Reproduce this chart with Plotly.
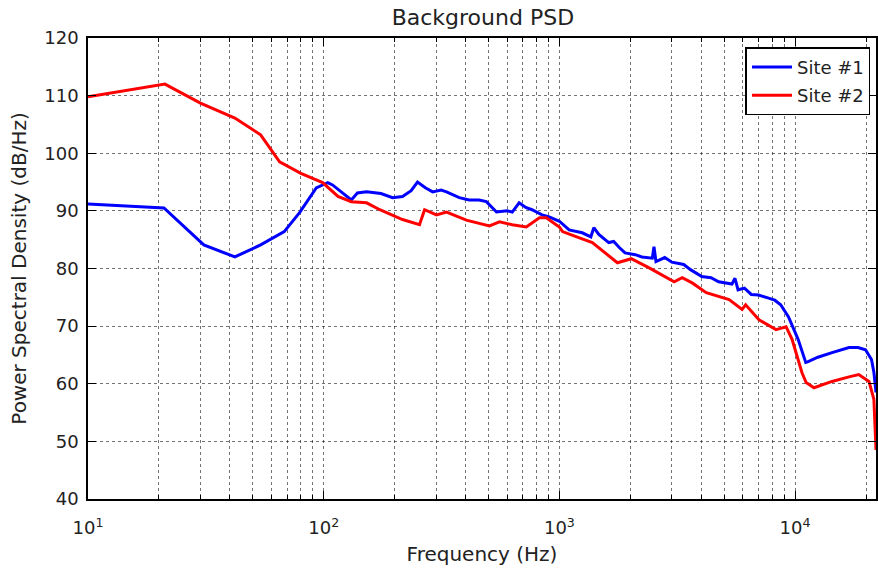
import plotly.graph_objects as go
import numpy as np

# Site #1 spectrum (frequency in Hz, level in dB/Hz)
site1_freq = [10, 21, 31, 42, 54, 65, 68, 79, 93, 104, 109, 131, 139, 152, 175, 196, 216, 235,
              250, 270, 290, 315, 332, 376, 414, 456, 490, 541, 600, 631, 675, 720, 765, 844,
              900, 1000, 1100, 1250, 1360, 1400, 1470, 1620, 1700, 1800, 1900, 2100, 2240,
              2480, 2520, 2570, 2800, 3000, 3370, 3600, 4020, 4400, 4740, 5400, 5560, 5730,
              6100, 6520, 7000, 7660, 8200, 8690, 9380, 10300, 11100, 11300, 12500, 14350,
              16940, 18500, 19900, 21100, 21600, 22050]
site1_db = [91.2, 90.5, 84.1, 82.0, 84.1, 86.0, 86.4, 89.7, 94.0, 94.9, 94.5, 91.9, 93.1, 93.3,
            93.0, 92.3, 92.5, 93.5, 95.0, 94.0, 93.3, 93.6, 93.3, 92.3, 91.9, 91.9, 91.6, 89.8,
            90.0, 89.8, 91.4, 90.6, 90.2, 89.3, 89.0, 88.2, 86.7, 86.2, 85.5, 87.1, 85.9, 84.5,
            84.7, 83.6, 82.7, 82.4, 82.0, 81.8, 83.8, 81.2, 81.9, 81.1, 80.7, 79.8, 78.6, 78.4,
            77.7, 77.3, 78.3, 76.3, 76.6, 75.5, 75.4, 74.9, 74.5, 73.7, 71.6, 67.7, 63.7, 63.8,
            64.6, 65.4, 66.3, 66.3, 65.9, 64.2, 62.0, 58.5]

# Site #2 spectrum
site2_freq = [10, 21.2, 30, 42, 54, 65, 80, 99, 115, 131, 152, 173, 216, 255, 268, 301, 332,
              403, 505, 557, 631, 724, 823, 880, 1000, 1031, 1216, 1380, 1763, 2018, 2405,
              3070, 3320, 3660, 4200, 5250, 5960, 6170, 7030, 8300, 9160, 9710, 10700, 11140,
              12030, 14350, 16940, 18630, 20590, 21600, 22050]
site2_db = [109.8, 112.0, 108.7, 106.1, 103.2, 98.5, 96.5, 94.9, 92.5, 91.6, 91.4, 90.2, 88.5,
            87.6, 90.2, 89.3, 89.8, 88.4, 87.4, 88.1, 87.6, 87.2, 88.8, 88.8, 87.2, 86.4, 85.3,
            84.5, 81.0, 81.7, 80.1, 77.7, 78.4, 77.5, 75.8, 74.6, 72.9, 73.7, 71.1, 69.4, 69.9,
            67.7, 61.9, 60.2, 59.3, 60.4, 61.2, 61.6, 60.4, 57.3, 48.5]

x_major = [10, 100, 1000, 10000]
x_major_text = ["10<sup>1</sup>", "10<sup>2</sup>", "10<sup>3</sup>", "10<sup>4</sup>"]
x_minor = [m * d for d in (10, 100, 1000, 10000) for m in range(2, 10) if m * d <= 22050]
y_ticks = list(range(40, 121, 10))

font_family = "DejaVu Sans"
grid_color = "rgba(0,0,0,0.55)"

fig = go.Figure()
fig.add_trace(go.Scatter(x=site1_freq, y=site1_db, mode="lines", name="Site #1",
                         legendgroup="s1",
                         line=dict(color="#0000ff", width=3)))
fig.add_trace(go.Scatter(x=site2_freq, y=site2_db, mode="lines", name="Site #2",
                         legendgroup="s2",
                         line=dict(color="#ff0000", width=3)))

fig.update_layout(
    width=878, height=574,
    margin=dict(l=88, r=0, t=38, b=75),
    paper_bgcolor="white", plot_bgcolor="white",
    font=dict(family=font_family, size=17, color="#222"),
    title=dict(text="Background PSD", x=0.55, xanchor="center",
               y=1 - 17 / 574, yanchor="middle",
               font=dict(size=22, color="#222")),
    legend=dict(x=0.993, xanchor="right", y=0.98, yanchor="top",
                bordercolor="black", borderwidth=1.5, bgcolor="white",
                font=dict(size=18), itemwidth=40, tracegroupgap=2),
    showlegend=True,
)

fig.update_xaxes(
    type="log", range=[1, np.log10(22050)],
    tickvals=x_major, ticktext=x_major_text,
    tickfont=dict(size=18),
    ticks="inside", ticklen=8, tickcolor="black",
    showline=True, linecolor="black", linewidth=1.5, mirror="allticks",
    showgrid=True, gridcolor=grid_color, griddash="dot", gridwidth=1,
    minor=dict(tickvals=x_minor, ticks="inside", ticklen=4, tickcolor="black",
               showgrid=True, gridcolor=grid_color, griddash="dot", gridwidth=1),
    title=dict(text="Frequency (Hz)", standoff=10),
    ticklabelstandoff=12,
    zeroline=False,
)
fig.update_yaxes(
    range=[40, 120], tickvals=y_ticks,
    tickfont=dict(size=18),
    ticks="inside", ticklen=8, tickcolor="black",
    showline=True, linecolor="black", linewidth=1.5, mirror="allticks",
    showgrid=True, gridcolor=grid_color, griddash="dot", gridwidth=1,
    title=dict(text="Power Spectral Density (dB/Hz)", standoff=12),
    ticklabelstandoff=4,
    zeroline=False,
)

fig.write_html("out.html")
